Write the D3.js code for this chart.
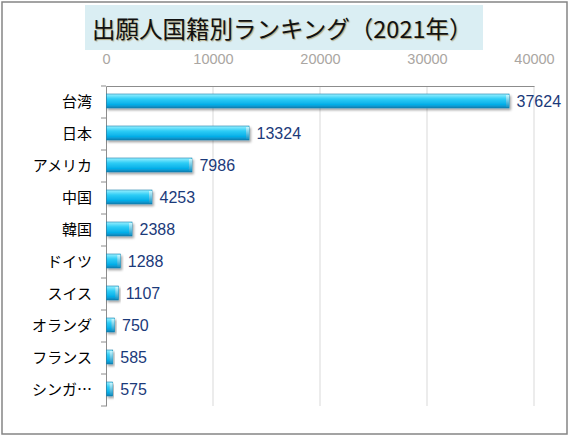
<!DOCTYPE html>
<html>
<head>
<meta charset="utf-8">
<script src="https://cdn.jsdelivr.net/npm/d3@7"></script>
<style>
  body { margin: 0; background: #fff; }
  text { font-family: "Liberation Sans", Arial, "Noto Sans CJK JP", sans-serif; }
</style>
</head>
<body>
<div id="chart"></div>
<script>
// data
const countries = ["台湾", "日本", "アメリカ", "中国", "韓国", "ドイツ", "スイス", "オランダ", "フランス", "シンガ…"];
const counts = [37624, 13324, 7986, 4253, 2388, 1288, 1107, 750, 585, 575];
const xTicks = [0, 10000, 20000, 30000, 40000];
const title = "出願人国籍別ランキング（2021年）";

const width = 569;
const height = 436;
const margin = { top: 86, right: 35, bottom: 30, left: 106 };

const svg = d3.select("#chart")
    .append("svg")
    .attr("width", width)
    .attr("height", height);

const defs = svg.append("defs");

const grad = defs.append("linearGradient")
    .attr("id", "barFill")
    .attr("x1", 0).attr("y1", 0).attr("x2", 0).attr("y2", 1);
grad.append("stop").attr("offset", "0%").attr("stop-color", "#9af0ff");
grad.append("stop").attr("offset", "35%").attr("stop-color", "#2fcdf6");
grad.append("stop").attr("offset", "75%").attr("stop-color", "#06aee8");
grad.append("stop").attr("offset", "100%").attr("stop-color", "#0a7fb3");

const capGrad = defs.append("linearGradient")
    .attr("id", "capFill")
    .attr("x1", 0).attr("y1", 0).attr("x2", 0).attr("y2", 1);
capGrad.append("stop").attr("offset", "0%").attr("stop-color", "#c8f8ff");
capGrad.append("stop").attr("offset", "100%").attr("stop-color", "#1596c8");

const shadow = defs.append("filter")
    .attr("id", "shadow")
    .attr("x", "-10%").attr("y", "-30%")
    .attr("width", "130%").attr("height", "180%");
shadow.append("feDropShadow")
    .attr("dx", 1.5).attr("dy", 2)
    .attr("stdDeviation", 1.2)
    .attr("flood-color", "#000")
    .attr("flood-opacity", 0.35);

// outer frame
svg.append("rect")
    .attr("x", 2).attr("y", 2)
    .attr("width", 565).attr("height", 432)
    .attr("fill", "#fff")
    .attr("stroke", "#858585")
    .attr("stroke-width", 1.5);

// title box
svg.append("rect")
    .attr("x", 85).attr("y", 5)
    .attr("width", 398).attr("height", 45)
    .attr("fill", "#daeef3");

svg.append("text")
    .attr("x", 92).attr("y", 38)
    .attr("font-size", 23.5)
    .attr("fill", "#111")
    .style("font-family", "'Noto Sans CJK JP', sans-serif")
    .style("text-shadow", "1px 1px 1px rgba(140,90,0,0.45)")
    .text(title);

const x = d3.scaleLinear()
    .domain([0, 40000])
    .range([margin.left, width - margin.right]);

const y = d3.scaleBand()
    .domain(countries)
    .range([margin.top, height - margin.bottom]);

// vertical gridlines
svg.append("g")
    .selectAll("line")
    .data(xTicks.slice(1))
    .enter()
    .append("line")
    .attr("x1", d => x(d)).attr("x2", d => x(d))
    .attr("y1", margin.top).attr("y2", height - margin.bottom)
    .attr("stroke", "#d9d9d9")
    .attr("stroke-width", 1);

// top axis (labels only, line drawn along plot top)
const xAxis = svg.append("g")
    .attr("transform", `translate(0, ${margin.top})`)
    .call(d3.axisTop(x).tickValues(xTicks).tickFormat(d3.format("d")).tickSize(0).tickPadding(22));
xAxis.select(".domain").attr("stroke", "#8c8c8c");
xAxis.selectAll("text")
    .attr("font-size", 14.5)
    .attr("fill", "#aaa6a2")
    .style("font-family", "'Liberation Sans', Arial, sans-serif");

// left axis
const yAxis = svg.append("g")
    .attr("transform", `translate(${margin.left}, 0)`)
    .call(d3.axisLeft(y).tickSize(0).tickPadding(14));
yAxis.select(".domain").attr("stroke", "#8c8c8c");
yAxis.selectAll("text")
    .attr("font-size", 15)
    .attr("fill", "#000")
    .attr("dy", "0.36em")
    .style("font-family", "'Noto Sans CJK JP', sans-serif");

// tick marks between categories
svg.append("g")
    .selectAll("line")
    .data(countries.concat(["__end"]))
    .enter()
    .append("line")
    .attr("x1", margin.left - 5).attr("x2", margin.left)
    .attr("y1", (d, i) => margin.top + i * y.step())
    .attr("y2", (d, i) => margin.top + i * y.step())
    .attr("stroke", "#8c8c8c");

const barH = 14;
const bars = svg.append("g")
    .selectAll("g")
    .data(countries.map((c, i) => ({ name: c, value: counts[i] })))
    .enter()
    .append("g")
    .attr("filter", "url(#shadow)");

bars.append("rect")
    .attr("x", x(0) + 0.5)
    .attr("y", d => y(d.name) + (y.bandwidth() - barH) / 2 - 1)
    .attr("width", d => x(d.value) - x(0))
    .attr("height", barH)
    .attr("fill", "url(#barFill)")
    .attr("stroke", "#1480ad")
    .attr("stroke-width", 0.6);

bars.append("rect")
    .attr("x", d => x(d.value) - 2.5)
    .attr("y", d => y(d.name) + (y.bandwidth() - barH) / 2)
    .attr("width", 3)
    .attr("height", barH - 2)
    .attr("fill", "url(#capFill)");

svg.append("g")
    .selectAll("text")
    .data(countries.map((c, i) => ({ name: c, value: counts[i] })))
    .enter()
    .append("text")
    .attr("x", d => x(d.value) + 8)
    .attr("y", d => y(d.name) + y.bandwidth() / 2 - 1)
    .attr("dy", "0.36em")
    .attr("font-size", 16)
    .attr("fill", "#1b3a7a")
    .text(d => d.value);
</script>
</body>
</html>
